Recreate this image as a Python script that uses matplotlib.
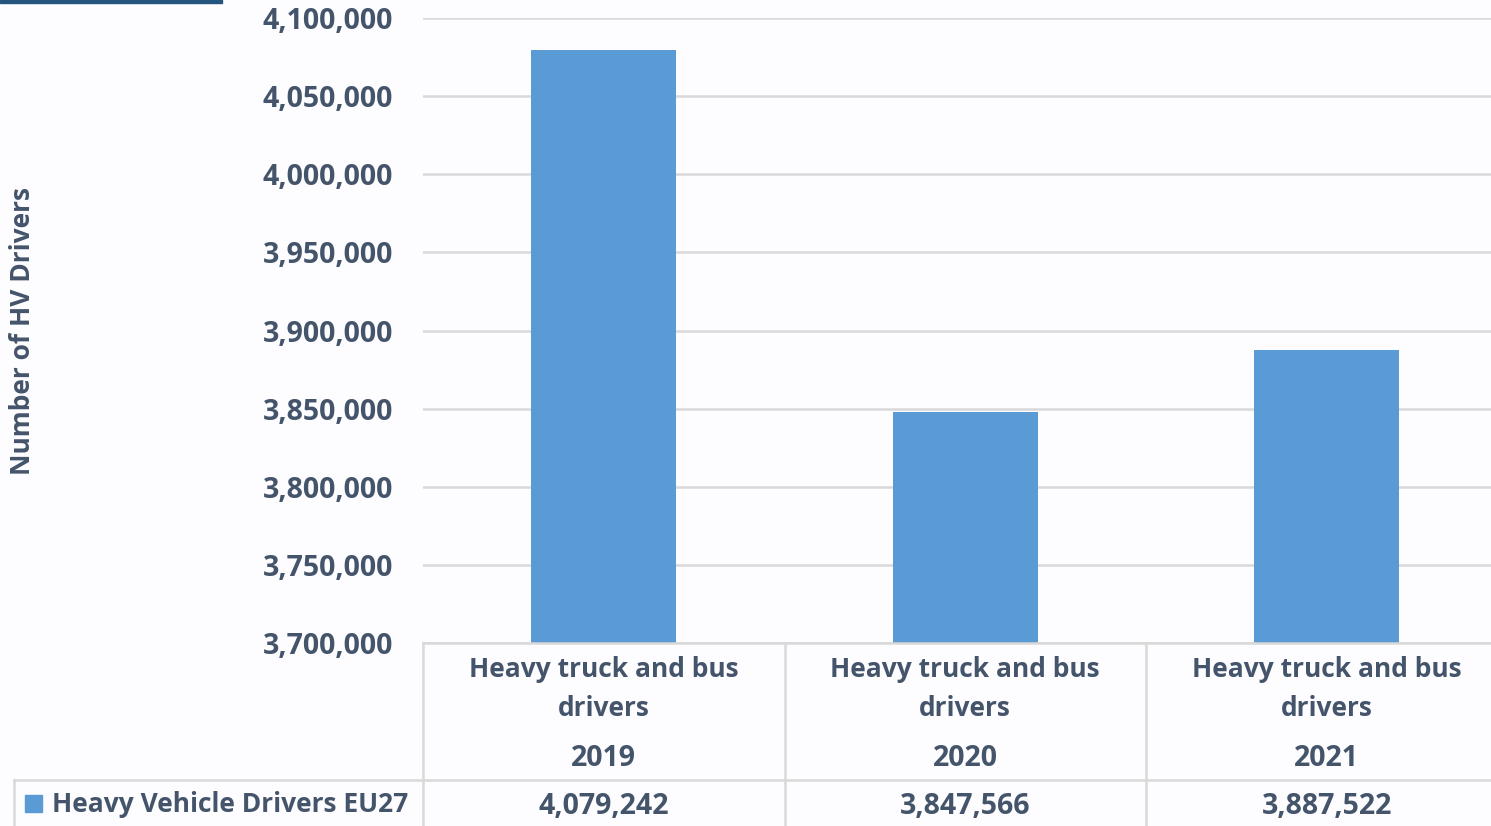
import matplotlib
matplotlib.use('Agg')
import matplotlib.pyplot as plt
from matplotlib.lines import Line2D
from matplotlib.patches import Rectangle
from matplotlib.ticker import FuncFormatter
import matplotlib.transforms as mtransforms

# EU27 heavy vehicle driver counts
years = ['2019', '2020', '2021']
category = 'Heavy truck and bus\ndrivers'
drivers = [4079242, 3847566, 3887522]
series_name = 'Heavy Vehicle Drivers EU27'

W, H = 1491, 826
bar_color = '#5B9BD5'
text_color = '#44546A'
grid_color = '#D9D9D9'
bg = '#FDFCFF'
num_size = 20.5
txt_size = 19

plt.rcParams['font.family'] = ['Open Sans', 'DejaVu Sans']
plt.rcParams['font.weight'] = 'bold'

fig = plt.figure(figsize=(W / 100, H / 100), dpi=100, facecolor=bg)

def px(x, y):
    return x / W, 1 - y / H

# plot area: left edge at 423px, 3.7M at 643px, 4.1M at 18px, 361.5px per category
left, bottom = px(423, 643)
ax = fig.add_axes([left, bottom, 3 * 361.5 / W, (643 - 18) / H])
ax.set_facecolor(bg)

x = range(len(years))
ax.bar(x, drivers, width=0.40, color=bar_color, zorder=3)
ax.set_xlim(-0.5, 2.5)
ax.set_ylim(3700000, 4100000)
ax.set_yticks(range(3700000, 4100001, 50000))
ax.yaxis.set_major_formatter(FuncFormatter(lambda v, p: f'{int(v):,}'))
ax.tick_params(axis='y', length=0, pad=21.5, labelsize=num_size,
               labelcolor=text_color)
ax.set_xticks([])
ax.grid(axis='y', color=grid_color, linewidth=1.8, zorder=0)
for s in ax.spines.values():
    s.set_visible(False)

fig.text(23 / W, px(0, 331)[1], 'Number of HV Drivers', rotation=90,
         ha='center', va='center', fontsize=19, color=text_color)

# data table underneath the axis
tr = mtransforms.blended_transform_factory(ax.transData, fig.transFigure)
line_kw = dict(color=grid_color, linewidth=1.8, clip_on=False)
fig.add_artist(Line2D([px(423, 0)[0], 1], [px(0, 643)[1]] * 2, **line_kw))
fig.add_artist(Line2D([px(14, 0)[0], 1], [px(0, 780)[1]] * 2, **line_kw))
fig.add_artist(Line2D([px(14, 0)[0]] * 2, [px(0, 780)[1], 0], **line_kw))
for i in x:
    fig.add_artist(Line2D([i - 0.5, i - 0.5], [px(0, 643)[1], 0],
                          transform=tr, **line_kw))
    ax.text(i, px(0, 689)[1], category, transform=tr, ha='center', va='center',
            fontsize=txt_size, color=text_color, linespacing=1.6)
    ax.text(i, px(0, 758)[1], years[i], transform=tr, ha='center',
            va='center', fontsize=num_size, color=text_color)
    ax.text(i, px(0, 806)[1], f'{drivers[i]:,}', transform=tr, ha='center',
            va='center', fontsize=num_size, color=text_color)

# legend key for the series row
fig.add_artist(Rectangle(px(25, 812), 17 / W, 17 / H, color=bar_color))
fig.text(52 / W, px(0, 805)[1], series_name, ha='left', va='center',
         fontsize=txt_size, color=text_color)

# strip of a picture along the top edge
fig.add_artist(Rectangle(px(0, 3), 222 / W, 3 / H, color='#24557F'))

fig.savefig('out.png', dpi=100, facecolor=bg)
